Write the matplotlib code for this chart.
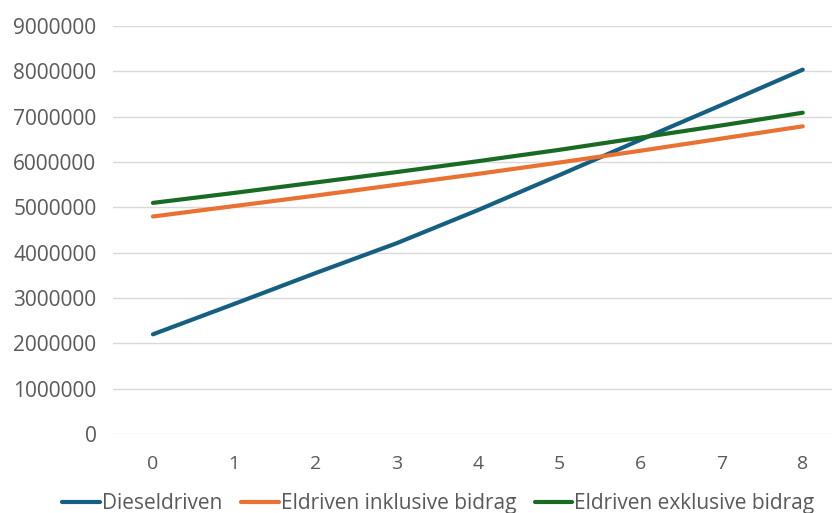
import matplotlib
matplotlib.use("Agg")
import matplotlib.pyplot as plt

plt.rcParams['font.family'] = ['Open Sans', 'DejaVu Sans']

years = [0, 1, 2, 3, 4, 5, 6, 7, 8]
diesel = [2200000, 2870000, 3550000, 4210000, 4940000, 5710000, 6490000, 7260000, 8040000]
el_inkl = [4800000, 5030000, 5260000, 5500000, 5740000, 5990000, 6250000, 6520000, 6790000]
el_exkl = [5100000, 5320000, 5550000, 5780000, 6020000, 6270000, 6540000, 6810000, 7090000]
y_ticks = [0, 1000000, 2000000, 3000000, 4000000, 5000000, 6000000, 7000000, 8000000, 9000000]

fig = plt.figure(figsize=(8.32, 5.13), dpi=100)
ax = fig.add_axes([0.136, 0.154, 0.864, 0.795])

ax.plot(years, diesel, color="#156082", lw=3, label="Dieseldriven", solid_capstyle="round")
ax.plot(years, el_inkl, color="#E97132", lw=3, label="Eldriven inklusive bidrag", solid_capstyle="round")
ax.plot(years, el_exkl, color="#196B24", lw=3, label="Eldriven exklusive bidrag", solid_capstyle="round")

ax.set_xlim(-0.49, 8.36)
ax.set_ylim(0, 9000000)
ax.set_yticks(y_ticks)
ax.set_yticklabels([str(v) for v in y_ticks])
ax.set_xticks(years)
ax.grid(axis="y", color="#d9d9d9", lw=1)
ax.set_axisbelow(True)
for s in ax.spines.values():
    s.set_visible(False)
ax.tick_params(length=0, labelsize=14, colors="#595959")
ax.tick_params(axis="y", labelsize=15, pad=12)
ax.tick_params(axis="x", pad=15)

fig.legend(loc="center", bbox_to_anchor=(0.527, 0.018), ncol=3, frameon=False,
           fontsize=15, labelcolor="#595959", handlelength=1.8, handletextpad=0.1,
           columnspacing=0.9)

fig.savefig("out.png", dpi=100)
